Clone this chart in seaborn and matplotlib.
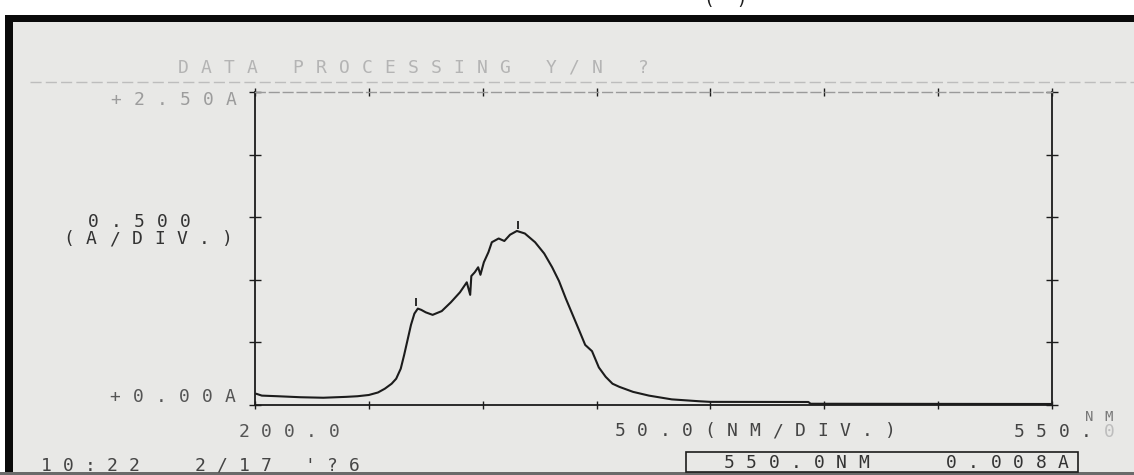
import matplotlib
matplotlib.use("Agg")
import pandas as pd
import seaborn as sns
import matplotlib.pyplot as plt
from matplotlib.patches import Rectangle

# spectrum (nm, absorbance)
wavelength = [200.5, 203, 210, 220, 230, 240, 245, 250, 254, 257, 260, 262, 264,
              265.5, 267, 268.5, 270, 271.5, 273, 275, 278, 282, 286, 290, 293,
              294.5, 295, 296.5, 298, 299, 300.5, 302.5, 304, 307, 309.5, 312,
              315, 318.5, 323, 327, 330.5, 333.5, 336.5, 339.5, 342.5, 345, 348,
              351, 354, 357, 360, 366, 373, 383, 395, 400, 443, 444, 550]
absorbance = [0.09, 0.075, 0.07, 0.062, 0.058, 0.065, 0.07, 0.08, 0.10, 0.13,
              0.17, 0.21, 0.29, 0.40, 0.52, 0.64, 0.73, 0.77, 0.76, 0.74, 0.72,
              0.75, 0.82, 0.90, 0.98, 0.88, 1.03, 1.06, 1.10, 1.04, 1.14, 1.22,
              1.30, 1.33, 1.31, 1.36, 1.39, 1.37, 1.30, 1.21, 1.10, 0.99, 0.85,
              0.72, 0.59, 0.48, 0.43, 0.30, 0.225, 0.17, 0.145, 0.105, 0.075,
              0.045, 0.03, 0.025, 0.024, 0.01, 0.008]

# peak-pick marks printed by the instrument
peak_nm = [270.5, 315.5]
peak_abs = [0.82, 1.44]

x_ticks = [200, 250, 300, 350, 400, 450, 500, 550]
y_ticks = [0.0, 0.5, 1.0, 1.5, 2.0, 2.5]

df = pd.DataFrame({"nm": wavelength, "A": absorbance})

W, H = 1134, 475
PAPER = "#e8e8e6"
INK = "#1c1c1c"

sns.set_style("white")
plt.rcParams["font.family"] = ["DejaVu Sans Mono"]

fig = plt.figure(figsize=(W / 100, H / 100), dpi=100)
fig.patch.set_facecolor("white")

# background layer in pixel coordinates
bg = fig.add_axes([0, 0, 1, 1], zorder=-1)
bg.set_xlim(0, W)
bg.set_ylim(H, 0)
bg.axis("off")
bg.add_patch(Rectangle((5, 15), W, H, fc="#0a0a0a", ec="none"))
bg.add_patch(Rectangle((13, 22), W, H - 25, fc=PAPER, ec="none"))
bg.add_patch(Rectangle((0, H - 3), W, 3, fc="#6a6a6a", ec="none"))
bg.plot([30, W], [82, 82], color="#bdbdbd", lw=1, ls=(0, (8, 3)))
bg.add_patch(Rectangle((686, 452), 392, 20, fc="none", ec=INK, lw=1.2))


def dot_text(x0, y, s, pitch=22.5, color=INK, size=13):
    # printer style text: one character per fixed cell
    for i, ch in enumerate(s):
        if ch != " ":
            bg.text(x0 + i * pitch + 6, y, ch, ha="center", va="center",
                    fontsize=size, color=color)


dot_text(177, 68, "DATA PROCESSING Y/N ?", pitch=23, color="#b4b4b4")
dot_text(110, 100, "+2.50A", pitch=23, color="#9c9c9c")
dot_text(87, 222, "0.500", pitch=23, color="#333333")
dot_text(63, 239, "(A/DIV.)", pitch=22.6, color="#333333")
dot_text(109, 397, "+0.00A", pitch=23, color="#555555")
dot_text(238, 432, "200.0", color="#555555")
dot_text(614, 431, "50.0(NM/DIV.)", color="#444444")
dot_text(1013, 432, "550.", color="#444444")
dot_text(1013 + 4 * 22.5, 432, "0", color="#bdbdbd")
dot_text(1083, 417, "NM", pitch=20, color="#777777", size=10)
dot_text(40, 466, "10:22  2/17 '?6", pitch=22, color="#444444")
dot_text(723, 463, "550.0NM", color="#333333")
dot_text(945, 463, "0.008A", color="#333333")
bg.text(726, 0, "(  )", ha="center", va="center", fontsize=13, color=INK)

# chart area
ax = fig.add_axes([255 / W, (H - 405) / H, 797 / W, 313 / H])
ax.set_facecolor("none")
sns.lineplot(data=df, x="nm", y="A", ax=ax, color=INK, lw=1.5)
ax.plot(peak_nm, peak_abs, ls="none", marker="|", ms=6, mew=1.3, color=INK)

ax.set_xlim(200, 550)
ax.set_ylim(0, 2.5)
ax.set_xticks(x_ticks)
ax.set_yticks(y_ticks)
ax.set_xticklabels([])
ax.set_yticklabels([])
ax.set_xlabel("")
ax.set_ylabel("")
ax.tick_params(axis="x", direction="inout", length=6, width=1, color=INK,
               bottom=True, top=True)
ax.tick_params(axis="y", direction="inout", length=9, width=1, color=INK,
               left=True, right=True)
for side in ["left", "bottom", "right"]:
    ax.spines[side].set_color(INK)
    ax.spines[side].set_linewidth(1.3)
ax.spines["top"].set_color("#9a9a9a")
ax.spines["top"].set_linewidth(1)
ax.spines["top"].set_linestyle((0, (7, 3)))

fig.savefig("out.png", dpi=100)
